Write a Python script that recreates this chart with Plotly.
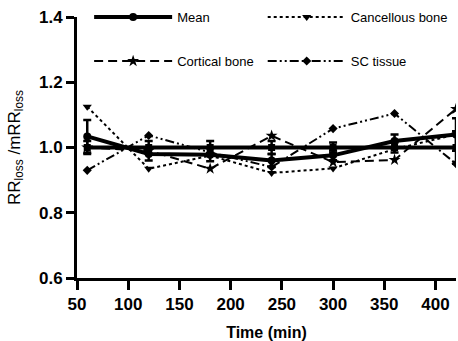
import plotly.graph_objects as go

time = [60, 120, 180, 240, 300, 360, 420]
mean_vals = [1.034, 0.980, 0.978, 0.960, 0.976, 1.020, 1.040]
mean_err = [0.050, 0.020, 0.020, 0.020, 0.015, 0.020, 0.050]
ref_vals = [1.0, 1.0, 1.0, 1.0, 1.0, 1.0, 1.0]
ref_err = [0.020, 0.020, 0.020, 0.020, 0.015, 0.015, 0.050]
cancellous = [1.125, 0.935, 0.975, 0.922, 0.936, 0.995, 1.040]
cortical = [1.000, 0.990, 0.935, 1.036, 0.955, 0.962, 1.118]
sc_tissue = [0.930, 1.037, 0.985, 0.940, 1.058, 1.104, 0.950]

fig = go.Figure()

fig.add_trace(go.Scatter(
    x=time, y=ref_vals, mode="lines+markers", showlegend=False,
    line=dict(color="black", width=4),
    marker=dict(symbol="square", size=7, color="black"),
    error_y=dict(type="data", array=ref_err, color="black", thickness=2.5, width=4),
))
fig.add_trace(go.Scatter(
    x=time, y=mean_vals, mode="lines+markers", name="Mean", legend="legend",
    line=dict(color="black", width=4),
    marker=dict(symbol="circle", size=8, color="black"),
    error_y=dict(type="data", array=mean_err, color="black", thickness=2.5, width=4),
))
fig.add_trace(go.Scatter(
    x=time, y=cancellous, mode="lines+markers", name="Cancellous bone", legend="legend2",
    line=dict(color="black", width=2, dash="dot"),
    marker=dict(symbol="triangle-down", size=8, color="black"),
))
fig.add_trace(go.Scatter(
    x=time, y=cortical, mode="lines+markers", name="Cortical bone", legend="legend3",
    line=dict(color="black", width=2, dash="9px,5px"),
    marker=dict(symbol="star", size=9, color="black"),
))
fig.add_trace(go.Scatter(
    x=time, y=sc_tissue, mode="lines+markers", name="SC tissue", legend="legend4",
    line=dict(color="black", width=2, dash="9px,3px,2px,3px,2px,3px"),
    marker=dict(symbol="diamond", size=7, color="black"),
))

leg_common = dict(
    orientation="h", xanchor="left", yanchor="middle",
    font=dict(size=13), bgcolor="rgba(0,0,0,0)",
    itemwidth=78,
)

fig.update_layout(
    width=458, height=341,
    margin=dict(l=77, r=2, t=17, b=63),
    paper_bgcolor="white", plot_bgcolor="white",
    font=dict(family="Liberation Sans, Arial, sans-serif", color="black"),
    legend=dict(x=0.032, y=1.0, **leg_common),
    legend2=dict(x=0.49, y=1.0, **leg_common),
    legend3=dict(x=0.032, y=0.831, **leg_common),
    legend4=dict(x=0.49, y=0.831, **leg_common),
    xaxis=dict(
        range=[50, 420], tickvals=[50, 100, 150, 200, 250, 300, 350, 400],
        showline=True, linecolor="black", linewidth=3,
        ticks="outside", ticklen=9, tickwidth=3, tickcolor="black",
        showgrid=False, zeroline=False, automargin=False,
        tickfont=dict(size=17, family="Liberation Sans, Arial", weight="bold"),
        title=dict(text="<b>Time (min)</b>", font=dict(size=16)),
    ),
    yaxis=dict(
        range=[0.6, 1.4], tickvals=[0.6, 0.8, 1.0, 1.2, 1.4],
        ticktext=["0.6", "0.8", "1.0", "1.2", "1.4"],
        showline=True, linecolor="black", linewidth=3,
        ticks="outside", ticklen=8, tickwidth=3, tickcolor="black",
        showgrid=False, zeroline=False, automargin=False,
        tickfont=dict(size=17, family="Liberation Sans, Arial", weight="bold"),
        title=dict(text="RR<sub>loss</sub> /mRR<sub>loss</sub>", font=dict(size=17)),
    ),
)

fig.write_html(
    "out.html",
    config={"displayModeBar": False},
    post_script="document.body.style.margin='0';document.body.style.overflow='hidden';",
)
